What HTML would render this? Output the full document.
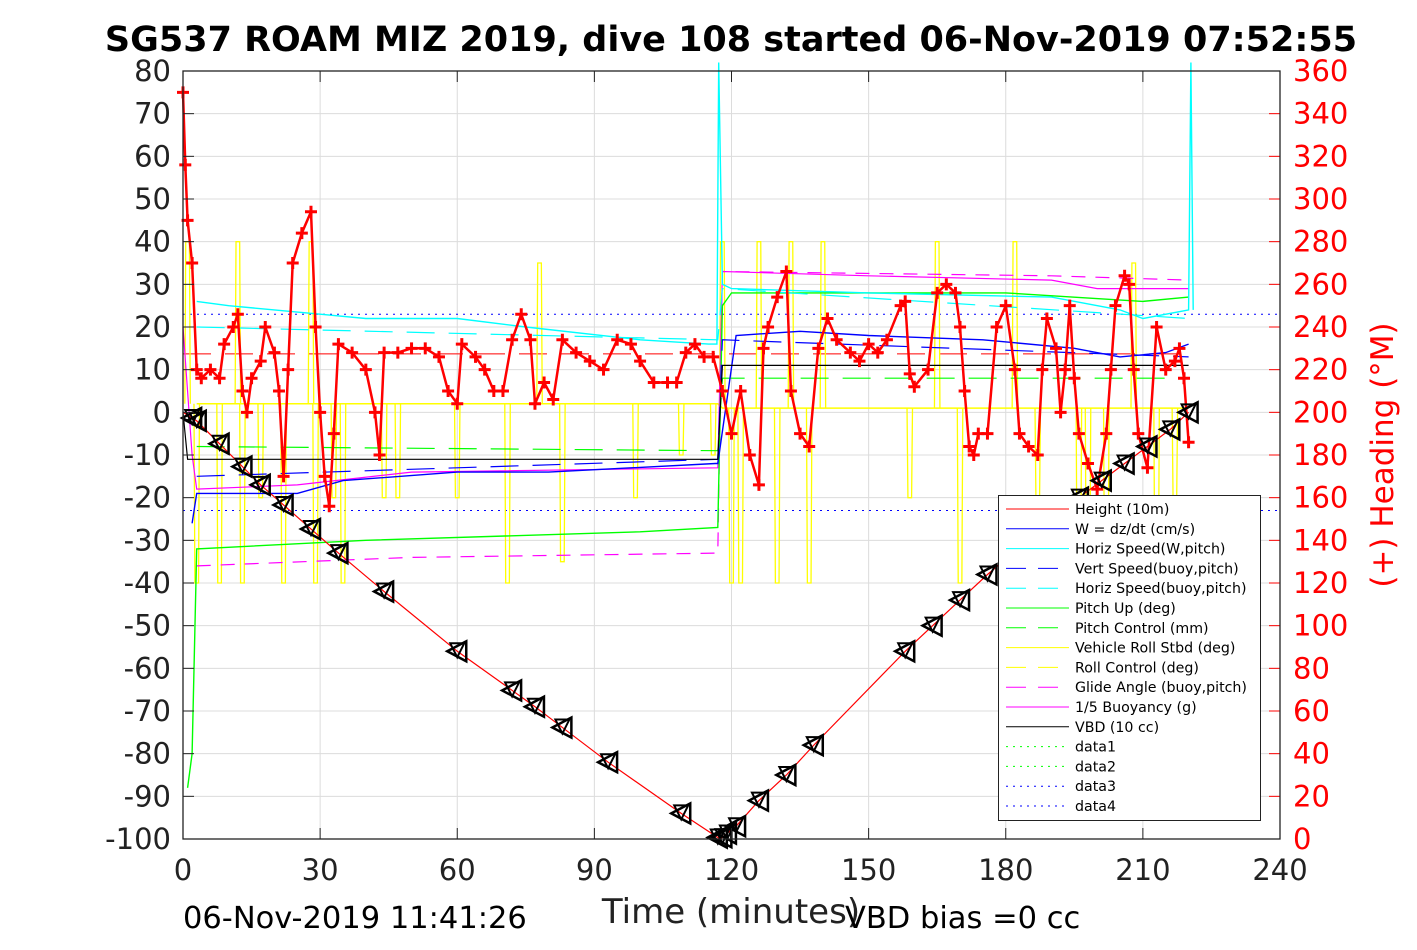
<!DOCTYPE html>
<html><head><meta charset="utf-8"><style>
body{margin:0;background:#fff}
svg text{font-family:"DejaVu Sans","Liberation Sans",sans-serif}
</style></head><body>
<svg id="c" width="1417" height="945" xmlns="http://www.w3.org/2000/svg">
<rect width="1417" height="945" fill="#fff"/>
<text x="731" y="51" font-size="35" font-weight="bold" text-anchor="middle">SG537 ROAM MIZ 2019, dive 108 started 06-Nov-2019 07:52:55</text>
<g id="grid"></g><g id="series"></g><g id="axes"></g>
<text x="731" y="923" font-size="34" text-anchor="middle" fill="#222">Time (minutes)</text>
<text x="183" y="928" font-size="30.5">06-Nov-2019 11:41:26</text>
<text x="845" y="928" font-size="30.5">VBD bias =0 cc</text>
<text transform="translate(1393,455) rotate(-90)" font-size="31" fill="#f00" text-anchor="middle">(+) Heading (°M)</text>
<g id="legend"></g>
</svg>
<script>
const xTicks=[0,30,60,90,120,150,180,210,240];
const yTicks=[80,70,60,50,40,30,20,10,0,-10,-20,-30,-40,-50,-60,-70,-80,-90,-100];
const hTicks=[360,340,320,300,280,260,240,220,200,180,160,140,120,100,80,60,40,20,0];
const depthT=[0,3,17,34,44,60,77,93,109,117.5,121,126,132,138,158,164,170,176,196,201,206,211,216,220];
const depthV=[0,-2,-17,-33,-42,-56,-69,-82,-94,-100,-97,-91,-85,-78,-56,-50,-44,-38,-20,-16,-12,-8,-4,0];
const triT=[2,3,8,13,17,22,28,34,44,60,72,77,83,93,109,117,118,119,121,126,132,138,158,164,170,176,196,201,206,211,216,220];
const hsT=[3,10,20,30,40,60,75,100,115,116.8,117.2,118,120,150,190,205,210,220,220.5,221];
const hsV=[26,25,24,23,22,22,20,17,16,16,82,30,29,28,27,24,22,24,82,24];
const wT=[2,3,25,35,60,80,116.5,117,121,135,150,175,195,205,215,220];
const wV=[-26,-19,-19,-16,-14,-14,-12,-12,18,19,18,17,15,13,14,16];
const vsT=[3,117,118,220];const vsV=[-15,-11,17,13];
const hbT=[3,117,118,220];const hbV=[20,17,29,22];
const puT=[1,2,3,40,100,117,118,120,180,210,220];const puV=[-88,-80,-32,-30,-28,-27,25,28,28,26,27];
const pcT=[3,117,118,220];const pcV=[-8,-9,8,8];
const gaT=[3,50,117,118,190,220];const gaV=[-36,-34,-33,33,32,31];
const buT=[0,2,3,25,50,117,118,150,190,200,220];const buV=[20,-10,-18,-17,-14,-13,33,32,31,29,29];
const vbT=[0,1,117,118,220];const vbV=[0,-11,-11,11,11];
const rollT=[3,117,118,220];const rollV=[2,2,1,1];
const spikeT=[1,3,8,12,13,17,22,28,29,33,35,44,47,60,71,78,83,99,109,116,118,120,122,126,130,133,137,140,159,165,170,182,187,196,198,202,208,213,217];
const spikeV=[40,-40,-40,40,-40,-20,-40,40,-40,-20,-40,-20,-20,-20,-40,35,-35,-20,-10,-10,40,-40,-40,40,-40,40,-40,40,-20,40,-40,40,-20,-40,-40,-40,35,-40,-20];
const headT=[0,0.5,1,2,3,4,6,8,9,11,12,13,14,15,17,18,20,21,22,23,24,26,28,29,30,31,32,33,34,37,40,42,43,44,47,50,53,56,58,60,61,64,66,68,70,72,74,76,77,79,81,83,86,89,92,95,98,100,103,106,108,110,112,114,116,118,120,122,124,126,127,128,130,132,133,135,137,139,141,143,146,148,150,152,154,157,158,159,160,163,165,167,169,170,171,172,173,174,176,178,180,182,183,185,187,188,189,191,192,193,194,195,196,198,200,202,203,204,206,207,208,209,211,213,215,217,218,219,220];
const headV=[350,316,290,270,220,216,220,216,232,240,246,210,200,216,224,240,228,210,170,220,270,284,294,240,200,170,156,190,232,228,220,200,180,228,228,230,230,226,210,204,232,226,220,210,210,234,246,234,204,214,206,234,228,224,220,234,232,224,214,214,214,228,232,226,226,210,190,210,180,166,230,240,254,266,210,190,184,230,244,234,228,224,232,228,234,250,252,218,212,220,256,260,256,240,210,184,180,190,190,240,250,220,190,184,180,220,244,230,200,220,250,216,190,176,164,190,220,250,264,260,220,190,174,240,220,224,230,216,186];

const NS='http://www.w3.org/2000/svg';
const X0=183,X1=1280,Y0=71,Y1=839;
const xs=t=>X0+t*(X1-X0)/240, ys=v=>Y0+(80-v)*(Y1-Y0)/180, yh=h=>Y0+(360-h)*(Y1-Y0)/360;
function mk(p,tag,a){const e=document.createElementNS(NS,tag);for(const k in a)e.setAttribute(k,a[k]);p.appendChild(e);return e;}
const G=document.getElementById('grid'),S=document.getElementById('series'),A=document.getElementById('axes'),L=document.getElementById('legend');
xTicks.forEach(t=>{const l=mk(G,'line',{x1:xs(t),x2:xs(t),y1:Y0,y2:Y1,stroke:'#dcdcdc'});

const tx=mk(A,'text',{x:xs(t),y:880,'font-size':29,'text-anchor':'middle',fill:'#222'});tx.textContent=t;

mk(A,'line',{x1:xs(t),x2:xs(t),y1:Y1,y2:Y1-11,stroke:'#222'});mk(A,'line',{x1:xs(t),x2:xs(t),y1:Y0,y2:Y0+11,stroke:'#222'});});
yTicks.forEach(v=>{const l=mk(G,'line',{x1:X0,x2:X1,y1:ys(v),y2:ys(v),stroke:'#dcdcdc'});

const tx=mk(A,'text',{x:171,y:ys(v)+10,'font-size':29,'text-anchor':'end',fill:'#222'});tx.textContent=v;

mk(A,'line',{x1:X0,x2:X0+11,y1:ys(v),y2:ys(v),stroke:'#222'});});
hTicks.forEach(h=>{const tx=mk(A,'text',{x:1293,y:yh(h)+10,'font-size':29,fill:'#f00'});tx.textContent=h;

mk(A,'line',{x1:X1,x2:X1-11,y1:yh(h),y2:yh(h),stroke:'#f00'});});
const fr=mk(A,'rect',{x:X0,y:Y0,width:X1-X0,height:Y1-Y0,fill:'none',stroke:'#222','stroke-width':1.3});

const pts=(T,V,f)=>T.map((t,i)=>xs(t).toFixed(1)+','+f(V[i]).toFixed(1)).join(' ');
function line(name,T,V,col,dash,w,f){const p=mk(S,'polyline',{points:pts(T,V,f||ys),fill:'none',stroke:col,'stroke-width':w||1.2,'stroke-dasharray':dash||'none'});
return p;}
let r=mk(S,'line',{x1:xs(0),x2:X1,y1:ys(23),y2:ys(23),stroke:'#00f','stroke-dasharray':'2 5'});
r=mk(S,'line',{x1:xs(0),x2:X1,y1:ys(-23),y2:ys(-23),stroke:'#00f','stroke-dasharray':'2 5'});
r=mk(S,'line',{x1:xs(0),x2:xs(220),y1:ys(13.7),y2:ys(13.7),stroke:'#f00','stroke-dasharray':'28 14'});
line('roll-line',rollT,rollV,'#ff0',null,1.5);
spikeT.forEach((t,i)=>{const base=t<117.5?2:1;const s=mk(S,'polyline',{points:`${xs(t-0.6)},${ys(base)} ${xs(t-0.4)},${ys(spikeV[i])} ${xs(t+0.4)},${ys(spikeV[i])} ${xs(t+0.6)},${ys(base)}`,fill:'none',stroke:'#ff0','stroke-width':1.3});
});
line('pitch-control-line',pcT,pcV,'#0f0','28 14');
line('glide-angle-line',gaT,gaV,'#f0f','14 10');
line('buoyancy-line',buT,buV,'#f0f');
line('pitch-up-line',puT,puV,'#0f0',null,1.4);
line('horiz-speed-buoy-line',hbT,hbV,'#0ff','28 14');
line('vert-speed-line',vsT,vsV,'#00f','28 14');
line('horiz-speed-line',hsT,hsV,'#0ff',null,1.4);
line('w-line',wT,wV,'#00f',null,1.4);
line('vbd-line',vbT,vbV,'#000');
line('heading-trace',headT,headV,'#f00',null,2.5,yh);
headT.forEach((t,i)=>{const x=xs(t),y=yh(headV[i]);const m=mk(S,'path',{d:`M${x-6},${y}H${x+6}M${x},${y-6}V${y+6}`,stroke:'#f00','stroke-width':3});
});
line('depth-line',depthT,depthV,'#f00',null,1.2);
function depthAt(t){for(let i=1;i<depthT.length;i++)if(t<=depthT[i]){const f=(t-depthT[i-1])/(depthT[i]-depthT[i-1]);return depthV[i-1]+f*(depthV[i]-depthV[i-1]);}return 0;}
triT.forEach(t=>{const x=xs(t),y=ys(depthAt(t));
const a=mk(S,'path',{d:`M${x-10},${y}L${x+9},${y-10}L${x+9},${y+10}Z`,fill:'none',stroke:'#000','stroke-width':2.5});

const b=mk(S,'path',{d:`M${x-7},${y-8}L${x+7},${y-8}L${x},${y+6}Z`,fill:'none',stroke:'#000','stroke-width':2});
});
const lg=mk(L,'rect',{x:998.5,y:495.5,width:262,height:325,fill:'#fff',stroke:'#222'});

const legLabels=['Height (10m)','W = dz/dt (cm/s)','Horiz Speed(W,pitch)','Vert Speed(buoy,pitch)','Horiz Speed(buoy,pitch)','Pitch Up (deg)','Pitch Control (mm)','Vehicle Roll Stbd (deg)','Roll Control (deg)','Glide Angle (buoy,pitch)','1/5 Buoyancy (g)','VBD (10 cc)','data1','data2','data3','data4'];
const legCols=['#f00','#00f','#0ff','#00f','#0ff','#0f0','#0f0','#ff0','#ff0','#f0f','#f0f','#000','#0f0','#0f0','#00f','#00f'];
const legDash=['','','','20 12','20 12','','20 12','','20 12','20 12','','','2 5','2 5','2 5','2 5'];
legLabels.forEach((s,i)=>{const y=509+i*19.8;
mk(L,'line',{x1:1006,x2:1069,y1:y,y2:y,stroke:legCols[i],'stroke-dasharray':legDash[i]||'none'});
const t=mk(L,'text',{x:1075,y:y+5,'font-size':14.2});t.textContent=s;
});
</script>
</body></html>
